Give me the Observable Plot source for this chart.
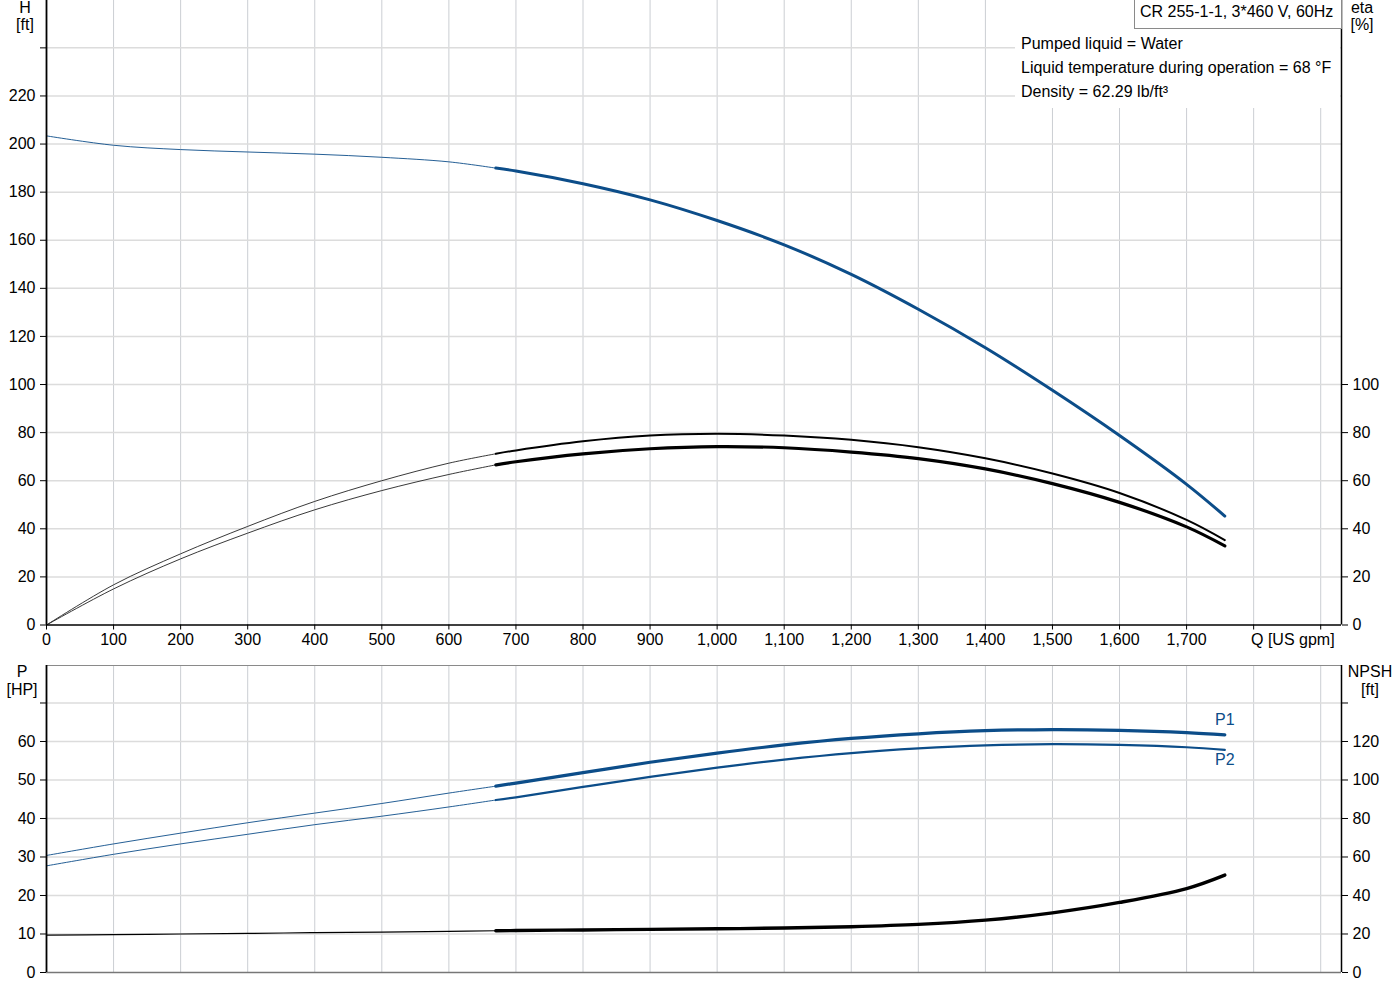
<!DOCTYPE html>
<html>
<head>
<meta charset="utf-8">
<script src="https://cdn.jsdelivr.net/npm/d3@7"></script>
<script src="https://cdn.jsdelivr.net/npm/@observablehq/plot@0.6"></script>
<style>
  html, body { margin: 0; padding: 0; background: #fff; }
  #wrap { position: relative; width: 1400px; height: 1000px; font-family: "Liberation Sans", Arial, sans-serif; font-size: 16px; color: #000; }
  .abs { position: absolute; white-space: nowrap; }
</style>
</head>
<body>
<div id="wrap">
  <div id="topPanel" class="abs" style="left:0;top:0;"></div>
  <div id="bottomPanel" class="abs" style="left:0;top:640px;"></div>
</div>
<script>
// ---------- data ----------
const Q     = [0, 100, 200, 300, 400, 500, 600, 670, 700, 800, 900, 1000, 1100, 1200, 1300, 1400, 1500, 1600, 1700, 1757];
const H     = [203.4, 199.5, 197.7, 196.7, 195.8, 194.5, 192.6, 190.0, 188.8, 183.5, 176.8, 168.2, 158.1, 145.8, 131.3, 115.3, 97.6, 78.8, 58.5, 45.3];
const ETA1  = [0, 16.7, 29.6, 41.0, 51.4, 60.0, 67.3, 71.2, 72.6, 76.4, 78.8, 79.5, 78.8, 77.0, 73.9, 69.3, 63.0, 54.9, 43.7, 35.3];
const ETA2  = [0, 15.0, 27.5, 38.2, 47.9, 55.9, 62.6, 66.6, 67.9, 71.2, 73.3, 74.2, 73.7, 71.9, 69.2, 64.9, 58.8, 51.0, 40.8, 32.9];
const P1    = [30.4, 33.4, 36.2, 38.9, 41.4, 43.9, 46.6, 48.4, 49.2, 51.9, 54.6, 57.0, 59.1, 60.8, 62.0, 62.8, 63.1, 62.9, 62.3, 61.7];
const P2    = [27.7, 30.7, 33.4, 35.9, 38.4, 40.6, 43.0, 44.8, 45.5, 48.2, 50.8, 53.2, 55.3, 57.0, 58.2, 59.0, 59.3, 59.1, 58.5, 57.8];
const NPSH  = [19.4, 19.7, 20.0, 20.3, 20.7, 21.0, 21.4, 21.7, 21.8, 22.1, 22.4, 22.7, 23.1, 23.8, 25.0, 27.2, 31.0, 36.4, 43.6, 50.6];
const DUTY_START = 670;

const qTicks      = [0, 100, 200, 300, 400, 500, 600, 700, 800, 900, 1000, 1100, 1200, 1300, 1400, 1500, 1600, 1700, 1800, 1900];
const qTickLabels = ["0", "100", "200", "300", "400", "500", "600", "700", "800", "900", "1,000", "1,100", "1,200", "1,300", "1,400", "1,500", "1,600", "1,700", "", ""];
const hTicks      = [0, 20, 40, 60, 80, 100, 120, 140, 160, 180, 200, 220, 240];
const hTickLabels = ["0", "20", "40", "60", "80", "100", "120", "140", "160", "180", "200", "220", ""];
const etaTicks    = [0, 20, 40, 60, 80, 100];
const pTicks      = [0, 10, 20, 30, 40, 50, 60, 70];
const pTickLabels = ["0", "10", "20", "30", "40", "50", "60", ""];
const npshTicks      = [0, 20, 40, 60, 80, 100, 120, 140];
const npshTickLabels = ["0", "20", "40", "60", "80", "100", "120", ""];

const TITLE = "CR 255-1-1, 3*460 V, 60Hz";
const INFO = ["Pumped liquid = Water", "Liquid temperature during operation = 68 °F", "Density = 62.29 lb/ft³"];

// ---------- build tables ----------
const rows = Q.map((q, i) => ({q, h: H[i], e1: ETA1[i], e2: ETA2[i], p1: P1[i], p2: P2[i], npsh: NPSH[i]}));
const thin = rows.filter(d => d.q <= DUTY_START);
const thick = rows.filter(d => d.q >= DUTY_START);

const BLUE = "#0c4d89";
const FONT = "'Liberation Sans', Arial, sans-serif";
const CURVE = "catmull-rom";
const X_MAX = 1931;
const H_MAX = 259.7;
const P_MAX = 79.74;
const NPSH_PER_P = 2; // right axis of lower panel: NPSH = 2 × P-units

const labelOf = (ticks, labels) => d => { const i = ticks.indexOf(d); return i < 0 ? "" : labels[i]; };

const gridXMark = () => Plot.gridX(qTicks.filter(d => d > 0), {stroke: "#cbced3", strokeOpacity: 1, strokeWidth: 1});

// ---------- top panel: H and eta ----------
const topChart = Plot.plot({
  width: 1400, height: 660,
  marginLeft: 46, marginRight: 59, marginTop: 0, marginBottom: 35.5,
  style: {fontFamily: FONT, fontSize: "16px", color: "#000", background: "transparent", overflow: "visible"},
  x: {domain: [0, X_MAX]},
  y: {domain: [0, H_MAX]},
  marks: [
    gridXMark(),
    Plot.gridY(hTicks.filter(d => d > 0), {stroke: "#dcdcdc", strokeOpacity: 1, strokeWidth: 1.5}),
    // eta curves (same pixel scale as H: 0..100)
    Plot.line(thin, {x: "q", y: "e1", stroke: "#222", strokeWidth: 0.9, curve: CURVE}),
    Plot.line(thin, {x: "q", y: "e2", stroke: "#222", strokeWidth: 0.9, curve: CURVE}),
    Plot.line(thick, {x: "q", y: "e1", stroke: "#000", strokeWidth: 2, curve: CURVE}),
    Plot.line(thick, {x: "q", y: "e2", stroke: "#000", strokeWidth: 3.2, curve: CURVE}),
    // H curve
    Plot.line(thin, {x: "q", y: "h", stroke: BLUE, strokeWidth: 0.9, curve: CURVE}),
    Plot.line(thick, {x: "q", y: "h", stroke: BLUE, strokeWidth: 3, curve: CURVE}),
    // frame lines
    Plot.ruleY([0], {stroke: "#000", strokeWidth: 1.6}),
    Plot.ruleX([0], {stroke: "#000", strokeWidth: 1.8}),
    Plot.ruleX([X_MAX], {stroke: "#000", strokeWidth: 1.5}),
    // axes
    Plot.axisX({anchor: "bottom", ticks: qTicks, tickFormat: labelOf(qTicks, qTickLabels), tickSize: 5, tickPadding: 4, label: null}),
    Plot.axisY({anchor: "left", ticks: hTicks, tickFormat: labelOf(hTicks, hTickLabels), tickSize: 6, tickPadding: 5, label: null}),
    Plot.axisY({anchor: "right", ticks: etaTicks, tickFormat: d => String(d), tickSize: 6, tickPadding: 5, label: null})
  ]
});
document.getElementById("topPanel").appendChild(topChart);

// ---------- bottom panel: P and NPSH ----------
const last = rows[rows.length - 1];
const bottomChart = Plot.plot({
  width: 1400, height: 345,
  marginLeft: 46, marginRight: 59, marginTop: 25, marginBottom: 13,
  style: {fontFamily: FONT, fontSize: "16px", color: "#000", background: "transparent", overflow: "visible"},
  x: {domain: [0, X_MAX], axis: null},
  y: {domain: [0, P_MAX]},
  marks: [
    gridXMark(),
    Plot.gridY(pTicks.filter(d => d > 0), {stroke: "#dcdcdc", strokeOpacity: 1, strokeWidth: 1.5}),
    Plot.ruleY([P_MAX], {stroke: "#8a8a8a", strokeWidth: 1.2}),
    Plot.ruleY([0], {stroke: "#777", strokeWidth: 1.4}),
    // P1, P2
    Plot.line(thin, {x: "q", y: "p1", stroke: BLUE, strokeWidth: 0.9, curve: CURVE}),
    Plot.line(thin, {x: "q", y: "p2", stroke: BLUE, strokeWidth: 0.9, curve: CURVE}),
    Plot.line(thick, {x: "q", y: "p1", stroke: BLUE, strokeWidth: 3.2, curve: CURVE}),
    Plot.line(thick, {x: "q", y: "p2", stroke: BLUE, strokeWidth: 2.2, curve: CURVE}),
    // NPSH (right axis, drawn in P-units)
    Plot.line(thin, {x: "q", y: d => d.npsh / NPSH_PER_P, stroke: "#000", strokeWidth: 1.2, curve: CURVE}),
    Plot.line(thick, {x: "q", y: d => d.npsh / NPSH_PER_P, stroke: "#000", strokeWidth: 3.4, curve: CURVE}),
    // curve labels
    Plot.text([last], {x: "q", y: "p1", text: () => "P1", dy: -15, fill: BLUE, fontSize: 16}),
    Plot.text([last], {x: "q", y: "p2", text: () => "P2", dy: 10, fill: BLUE, fontSize: 16}),
    // frame lines
    Plot.ruleX([0], {stroke: "#000", strokeWidth: 1.8}),
    Plot.ruleX([X_MAX], {stroke: "#000", strokeWidth: 1.5}),
    // axes
    Plot.axisY({anchor: "left", ticks: pTicks, tickFormat: labelOf(pTicks, pTickLabels), tickSize: 6, tickPadding: 5, label: null}),
    Plot.axisY({anchor: "right", ticks: npshTicks.map(v => v / NPSH_PER_P), tickFormat: d => labelOf(npshTicks, npshTickLabels)(d * NPSH_PER_P), tickSize: 6, tickPadding: 5, label: null})
  ]
});
document.getElementById("bottomPanel").appendChild(bottomChart);

// ---------- overlay texts ----------
const wrap = document.getElementById("wrap");
function addDiv(html, css) {
  const d = document.createElement("div");
  d.className = "abs";
  d.style.cssText = css;
  d.innerHTML = html;
  wrap.appendChild(d);
  return d;
}
// info box (white background hiding the grid)
addDiv("", "left:1015px;top:0;width:325px;height:108px;background:#fff;");
addDiv(TITLE, "left:1134px;top:-1px;width:201px;height:29px;border:1px solid #8a8a8a;border-top:none;background:#fff;padding-left:5px;line-height:26px;");
addDiv(INFO.join("<br>"), "left:1021px;top:32px;line-height:24px;");
// axis unit labels
addDiv("H<br>[ft]", "left:5px;top:-1px;width:40px;text-align:center;line-height:17px;");
addDiv("eta<br>[%]", "left:1342px;top:-1px;width:40px;text-align:center;line-height:17px;");
addDiv("P<br>[HP]", "left:2px;top:663px;width:40px;text-align:center;line-height:18px;");
addDiv("NPSH<br>[ft]", "left:1344px;top:663px;width:52px;text-align:center;line-height:18px;");
addDiv("Q [US gpm]", "left:1251px;top:630px;line-height:20px;");
</script>
</body>
</html>
